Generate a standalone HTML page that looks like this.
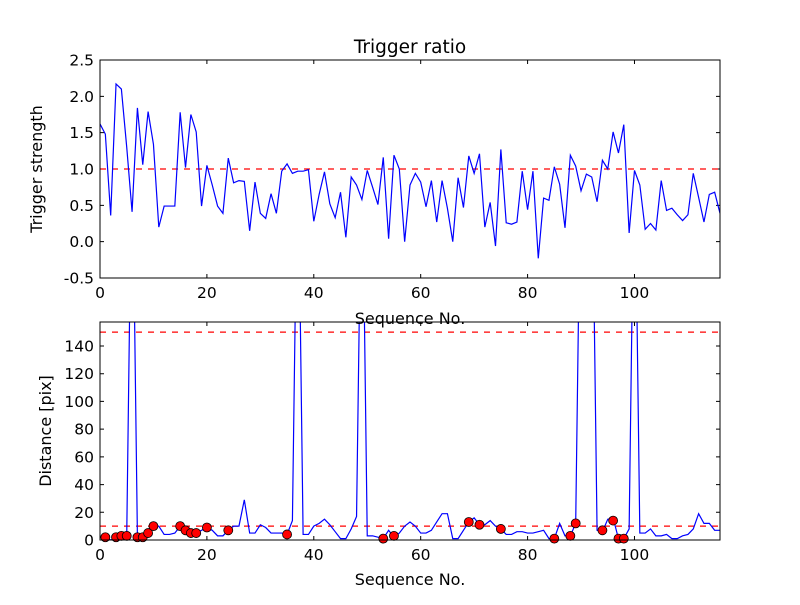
<!DOCTYPE html>
<html><head><meta charset="utf-8"><style>
body{margin:0;background:#fff}
svg text{font-family:"DejaVu Sans","Liberation Sans",sans-serif;fill:#000}
</style></head><body>
<svg id="chart" width="800" height="600" xmlns="http://www.w3.org/2000/svg">
<rect width="800" height="600" fill="#fff"/>
<defs>
<clipPath id="c1"><rect x="100" y="60" width="620" height="218"/></clipPath>
<clipPath id="c2"><rect x="100" y="322" width="620" height="218"/></clipPath>
</defs>
<g id="g"></g>
</svg>
<script>
const topValues=[1.62,1.48,0.36,2.17,2.10,1.30,0.41,1.84,1.06,1.79,1.34,0.20,0.49,0.49,0.49,1.78,1.02,1.75,1.51,0.49,1.05,0.78,0.49,0.39,1.15,0.81,0.84,0.83,0.15,0.82,0.39,0.32,0.66,0.39,0.97,1.07,0.94,0.97,0.97,0.99,0.28,0.65,0.96,0.52,0.33,0.68,0.06,0.89,0.78,0.58,0.98,0.75,0.51,1.16,0.04,1.19,1.0,0.0,0.78,0.94,0.82,0.48,0.84,0.27,0.84,0.46,0.0,0.88,0.47,1.18,0.94,1.21,0.20,0.54,-0.06,1.27,0.26,0.24,0.27,0.97,0.44,0.97,-0.23,0.60,0.57,1.03,0.79,0.19,1.19,1.04,0.70,0.93,0.89,0.55,1.12,1.0,1.51,1.22,1.61,0.12,0.98,0.78,0.17,0.25,0.16,0.84,0.43,0.46,0.37,0.29,0.37,0.94,0.61,0.27,0.65,0.68,0.39];
const distValues=[2,2,0,2,3,3,300,2,2,5,10,10,4,4,5,10,7,5,5,7,9,7,3,3,7,10,10,29,5,5,11,9,5,5,5,4,14,300,4,4,10,12,15,11,6,1,1,8,17,300,3,3,2,1,7,2,5,10,13,10,5,5,7,13,19,19,1,1,7,13,16,11,11,14,10,8,4,4,6,6,5,5,6,7,1,1,12,3,3,12,300,300,300,7,6,15,16,1,1,8,300,5,5,8,3,3,4,1,1,3,4,8,19,12,12,7,7];
const dotIdx=[1,3,4,5,7,8,9,10,15,16,17,18,20,24,35,53,55,69,71,75,85,88,89,94,96,97,98];
const dotVals=[2,2,3,3,2,2,5,10,10,7,5,5,9,7,4,1,3,13,11,8,1,3,12,7,14,1,1];
const xTicks=[0,20,40,60,80,100];
const topYTicks=[-0.5,0.0,0.5,1.0,1.5,2.0,2.5];
const botYTicks=[0,20,40,60,80,100,120,140];
const topThreshold=1.0, botThresholds=[10,150];
const NS="http://www.w3.org/2000/svg", g=document.getElementById('g');
function mk(t,a,p){const e=document.createElementNS(NS,t);for(const k in a)e.setAttribute(k,a[k]);(p||g).appendChild(e);return e;}
const L=100,R=720,XMAX=116;
const x=v=>L+(v/XMAX)*(R-L);
const yT=v=>278-(v+0.5)/3*218;
const yB=v=>540-v/157.3*218;
function axes(top,bottom,yf,yt,fmt,name){
  xTicks.forEach(t=>{
    const tk=mk('path',{d:`M${x(t)},${bottom}v-4M${x(t)},${top}v4`,stroke:'#000','stroke-width':1});
    
    
    const tx=mk('text',{x:x(t),y:bottom+20,'text-anchor':'middle','font-size':15.5});
    tx.textContent=t;
    
    
  });
  yt.forEach(t=>{
    const tk=mk('path',{d:`M${L},${yf(t)}h4M${R},${yf(t)}h-4`,stroke:'#000','stroke-width':1});
    
    
    const tx=mk('text',{x:L-6,y:yf(t)+5.5,'text-anchor':'end','font-size':15.5});
    tx.textContent=fmt(t);
    
    
  });
}
axes(60,278,yT,topYTicks,t=>t.toFixed(1),'top');
const th=mk('line',{x1:L,x2:R,y1:yT(topThreshold),y2:yT(topThreshold),stroke:'red','stroke-width':1.2,'stroke-dasharray':'6,6'});


const pl=mk('polyline',{points:topValues.map((v,i)=>x(i)+','+yT(v)).join(' '),fill:'none',stroke:'#00f','stroke-width':1.2,'clip-path':'url(#c1)'});


const f1=mk('rect',{x:L,y:60,width:R-L,height:218,fill:'none',stroke:'#000','stroke-width':1});


axes(322,540,yB,botYTicks,t=>t,'bottom');
botThresholds.forEach(v=>{
  const l=mk('line',{x1:L,x2:R,y1:yB(v),y2:yB(v),stroke:'red','stroke-width':1.2,'stroke-dasharray':'6,6'});
  
  
});
const pl2=mk('polyline',{points:distValues.map((v,i)=>x(i)+','+yB(v)).join(' '),fill:'none',stroke:'#00f','stroke-width':1.2,'clip-path':'url(#c2)'});


dotIdx.forEach((d,i)=>{
  const c=mk('circle',{cx:x(d),cy:yB(dotVals[i]),r:4.5,fill:'red',stroke:'#000','stroke-width':0.8});
  
  
});
const f2=mk('rect',{x:L,y:322,width:R-L,height:218,fill:'none',stroke:'#000','stroke-width':1});


function lab(txt,a,name){const t=mk('text',a);t.textContent=txt;}
lab('Trigger ratio',{x:410,y:53,'text-anchor':'middle','font-size':18.5},'chart-title');
lab('Sequence No.',{x:410,y:324,'text-anchor':'middle','font-size':16},'top-x-axis-title');
lab('Sequence No.',{x:410,y:585,'text-anchor':'middle','font-size':16},'bottom-x-axis-title');
lab('Trigger strength',{x:0,y:0,'text-anchor':'middle','font-size':16,transform:'translate(42,169) rotate(-90)'},'top-y-axis-title');
lab('Distance [pix]',{x:0,y:0,'text-anchor':'middle','font-size':16,transform:'translate(51,431) rotate(-90)'},'bottom-y-axis-title');
</script>
</body></html>
